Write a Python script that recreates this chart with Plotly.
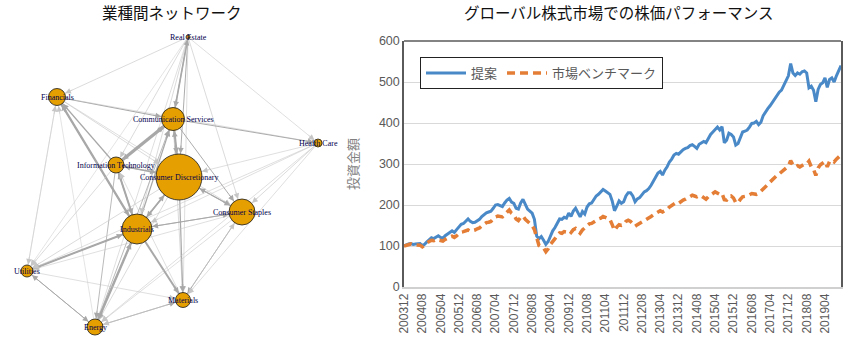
import numpy as np
import pandas as pd
import plotly.graph_objects as go

# ---------------- network data ----------------
node_names = ["Real Estate", "Financials", "Communication Services", "Health Care",
              "Information Technology", "Consumer Discretionary", "Consumer Staples",
              "Industrials", "Utilities", "Materials", "Energy"]
node_x = [188, 57, 173, 318, 116, 179, 242, 137, 27, 183, 95]
node_y = [37, 97, 119, 143, 165, 177, 212, 229, 271, 300, 327]
node_size = [4, 17, 23, 8, 16, 46, 26, 30, 12, 15, 16]

edge_src = ["RE","RE","COM","RE","RE","RE","RE","RE","RE","RE","RE",
            "FIN","IND","FIN","IT","FIN","FIN","FIN","UT","EN","FIN",
            "COM","COM","CD","IT","IND","COM","COM","COM",
            "IT","CD","IND","IT","IT","IT",
            "CD","CS","CD","IND","CD","HC","CD","CD",
            "IND","CS","HC","CS","MAT","CS","CS",
            "IND","UT","IND","EN","IND","HC","HC","HC","HC",
            "UT","EN","UT","EN","MAT","MAT","EN"]
edge_dst = ["FIN","COM","RE","CD","IT","IND","EN","MAT","HC","CS","UT",
            "COM","FIN","IND","FIN","HC","CD","CS","FIN","FIN","UT",
            "HC","CD","COM","COM","COM","CS","MAT","IT",
            "CD","IT","IT","IND","EN","UT",
            "CS","CD","IND","CD","MAT","CD","EN","UT",
            "CS","IND","CS","MAT","CS","EN","UT",
            "UT","IND","EN","IND","MAT","IND","UT","EN","MAT",
            "EN","UT","MAT","MAT","EN","IT","COM"]
edge_weight = [0.8,2.0,1.0,1.2,0.8,0.8,0.7,0.7,0.7,0.8,0.6,
               1.5,3.0,1.5,1.5,0.7,0.8,0.7,0.6,0.6,0.6,
               1.2,3.0,1.5,4.0,1.5,1.2,0.8,1.0,
               2.0,1.0,2.5,1.5,1.0,0.8,
               1.5,1.0,2.0,1.5,1.5,0.7,0.8,0.8,
               1.2,1.0,0.8,1.2,0.8,0.7,0.7,
               2.5,1.0,3.0,1.5,2.5,0.7,0.7,0.7,0.7,
               1.2,1.0,0.7,1.2,0.8,0.7,1.0]
abbr = ["RE","FIN","COM","HC","IT","CD","CS","IND","UT","MAT","EN"]

# ---------------- performance data ----------------
months = pd.period_range("2003-12", "2019-11", freq="M").strftime("%Y%m").tolist()
tick_labels = months[::8]

proposal = [100,103,105,106,104,105,105,106,101,104,110,115,
            120,118,122,125,121,119,125,130,133,137,133,140,
            147,153,155,160,166,160,157,158,162,165,172,177,
            181,183,185,192,200,201,198,196,205,212,216,207,
            204,192,190,205,214,200,190,185,180,165,124,118,
            123,114,104,111,125,137,145,156,166,165,170,168,
            180,172,185,192,180,171,184,178,195,203,205,215,
            222,226,232,238,234,230,226,210,186,197,210,204,
            208,222,230,230,222,208,215,218,226,232,235,240,
            248,258,265,278,282,273,285,293,305,312,322,326,
            324,330,335,338,340,345,347,343,338,348,352,355,
            352,362,372,378,385,390,383,391,352,358,375,372,
            366,346,350,365,378,380,383,390,399,400,404,396,
            402,418,428,435,442,450,460,468,475,480,492,505,
            515,545,522,516,522,519,525,527,522,486,490,480,
            452,482,494,498,510,487,506,510,500,515,530,540]
benchmark = [100,102,104,105,103,103,104,102,98,103,108,111,
             114,113,116,115,113,112,116,120,122,124,121,125,
             130,134,135,137,139,136,137,139,142,144,149,153,
             157,158,160,166,171,173,172,171,177,183,188,180,
             176,166,162,170,173,165,159,155,150,140,118,101,
             98,95,86,93,104,113,118,126,132,131,135,134,
             138,133,140,143,137,131,139,144,150,154,155,159,
             163,166,168,172,170,167,165,152,138,146,152,150,
             152,160,163,160,154,148,152,155,159,162,164,168,
             172,176,180,184,186,183,186,189,195,198,203,206,
             204,209,212,214,217,222,224,222,220,223,222,218,
             214,220,225,228,232,230,226,228,213,212,220,222,
             217,206,205,214,220,221,222,225,228,227,226,228,
             233,240,245,250,256,262,268,272,276,281,286,291,
             295,308,298,293,296,293,297,300,300,307,293,287,
             272,290,298,302,306,293,306,309,305,312,318,322]

W, H = 867, 340
fig = go.Figure()

# ---------------- network ----------------
idx = {a: i for i, a in enumerate(abbr)}
annotations = []
for s, d, w in zip(edge_src, edge_dst, edge_weight):
    i, j = idx[s], idx[d]
    x0, y0, x1, y1 = node_x[i], node_y[i], node_x[j], node_y[j]
    lw = 0.8 * w
    col = "#A8A8A8" if w >= 1.0 else "#C6C6C6"
    fig.add_trace(go.Scatter(x=[x0, x1], y=[y0, y1], mode="lines",
                             line=dict(color=col, width=lw), hoverinfo="skip",
                             showlegend=False, xaxis="x", yaxis="y"))
    L = np.hypot(x1 - x0, y1 - y0)
    ux, uy = (x1 - x0) / L, (y1 - y0) / L
    rt = node_size[j] / 2
    back = rt + 10
    annotations.append(dict(x=x1, y=y1, ax=x1 - ux * back, ay=y1 - uy * back,
                            xref="x", yref="y", axref="x", ayref="y", text="",
                            showarrow=True, arrowhead=2, arrowwidth=lw,
                            arrowsize=max(0.3, min(3.0, 1.15 / lw)), arrowcolor=col,
                            standoff=rt + 0.5))

fig.add_trace(go.Scatter(x=node_x, y=node_y, mode="markers",
                         marker=dict(size=node_size, color="#E69F00", opacity=1,
                                     line=dict(color="#1A1A1A", width=0.8)),
                         hoverinfo="skip", showlegend=False, xaxis="x", yaxis="y"))

# node labels drawn as annotations so they sit above the arrowheads
for name, nx, ny in zip(node_names, node_x, node_y):
    annotations.append(dict(text=name, x=nx, y=ny, xref="x", yref="y", showarrow=False,
                            xanchor="center", yanchor="middle",
                            font=dict(family="Liberation Serif", size=8, color="#00004D")))

# ---------------- performance chart ----------------
fig.add_trace(go.Scatter(x=months, y=proposal, name="提案", mode="lines",
                         line=dict(color="#4A89C8", width=3),
                         xaxis="x2", yaxis="y2"))
fig.add_trace(go.Scatter(x=months, y=benchmark, name="市場ベンチマーク", mode="lines",
                         line=dict(color="#E47D35", width=3.5, dash="8px,5px"),
                         xaxis="x2", yaxis="y2"))

x2d = [404 / W, 841 / W]
y2d = [1 - 287 / H, 1 - 41 / H]

annotations += [
    dict(text="業種間ネットワーク", x=172 / W, y=1 - 12 / H, xref="paper", yref="paper",
         showarrow=False, xanchor="center", yanchor="middle",
         font=dict(family="Noto Sans CJK JP", size=15.5, color="#111111")),
    dict(text="グローバル株式市場での株価パフォーマンス", x=619 / W, y=1 - 12 / H,
         xref="paper", yref="paper", showarrow=False, xanchor="center", yanchor="middle",
         font=dict(family="Noto Sans CJK JP", size=15.5, color="#111111")),
    dict(text="投資金額", x=352 / W, y=1 - 164 / H, xref="paper", yref="paper",
         showarrow=False, textangle=-90, xanchor="center", yanchor="middle",
         font=dict(family="Noto Sans CJK JP", size=13, color="#808080")),
]

fig.update_layout(
    width=W, height=H, margin=dict(l=0, r=0, t=0, b=0),
    paper_bgcolor="white", plot_bgcolor="white",
    xaxis=dict(domain=[0, 340 / W], range=[0, 340], visible=False, fixedrange=True),
    yaxis=dict(domain=[0, 1], range=[340, 0], visible=False, fixedrange=True),
    xaxis2=dict(domain=x2d, anchor="y2", type="category", range=[0, 191],
                tickmode="array", tickvals=tick_labels, ticktext=tick_labels,
                tickangle=-90, showgrid=False, showline=True, linecolor="#D0D0D0",
                linewidth=1.5, ticks="", automargin=False,
                tickfont=dict(family="Liberation Sans", size=12, color="#595959")),
    yaxis2=dict(domain=y2d, anchor="x2", range=[0, 600], dtick=100,
                showgrid=True, gridcolor="#D9D9D9", gridwidth=1.2,
                showline=True, mirror=True, linecolor="#5A5A5A", linewidth=1.5,
                zeroline=False, ticks="", automargin=False,
                tickfont=dict(family="Liberation Sans", size=12.5, color="#595959")),
    shapes=[dict(type="line", xref="x2 domain", yref="y2 domain", x0=0, x1=1, y0=1, y1=1,
                 line=dict(color="#5A5A5A", width=1.5))],
    legend=dict(x=420 / W, y=1 - 57 / H, xanchor="left", yanchor="top",
                orientation="h", bgcolor="white", bordercolor="#222222", borderwidth=1,
                font=dict(family="Noto Sans CJK JP", size=13, color="#595959"),
                itemwidth=40, tracegroupgap=0),
    annotations=annotations,
)

fig.write_html("out.html")
